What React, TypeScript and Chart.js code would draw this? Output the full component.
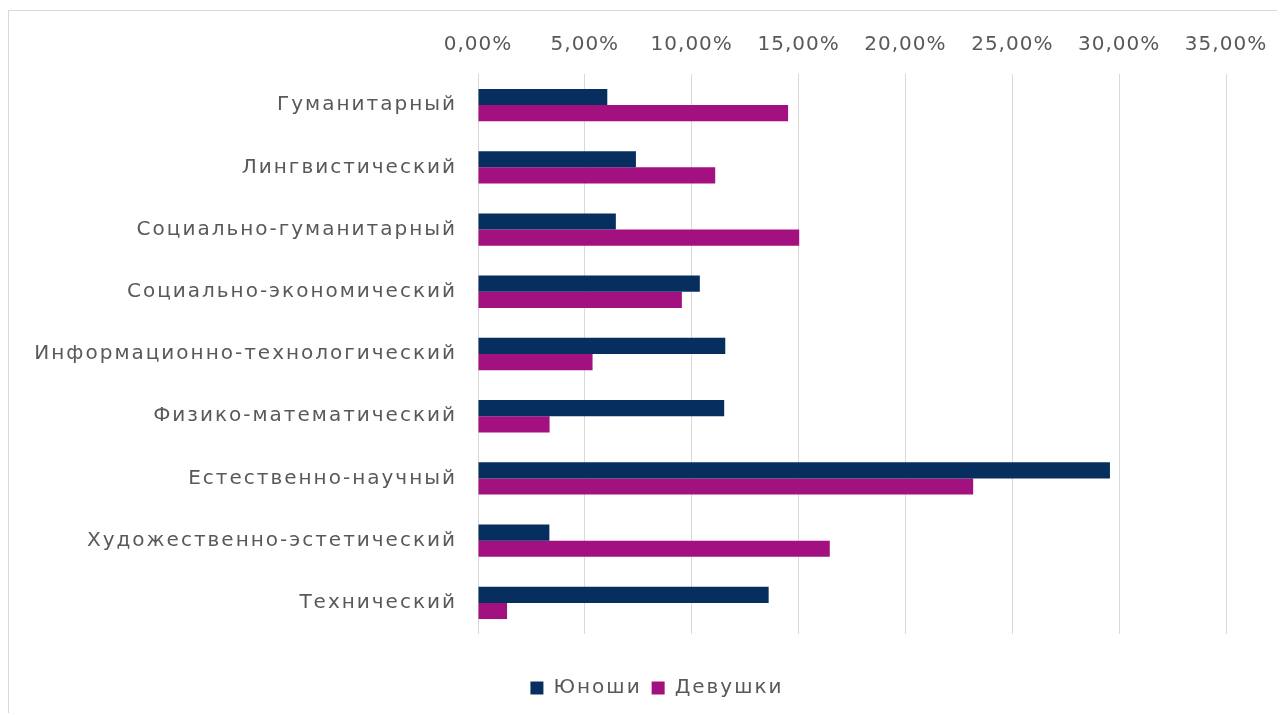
import React, { useEffect, useRef } from "react";
import { Chart, registerables } from "chart.js";

Chart.register(...registerables);

const categories = [
  "Гуманитарный",
  "Лингвистический",
  "Социально-гуманитарный",
  "Социально-экономический",
  "Информационно-технологический",
  "Физико-математический",
  "Естественно-научный",
  "Художественно-эстетический",
  "Технический",
];
const boys = [6.05, 7.39, 6.45, 10.38, 11.57, 11.52, 29.57, 3.34, 13.6];
const girls = [14.51, 11.1, 15.03, 9.54, 5.36, 3.35, 23.17, 16.46, 1.36];
const seriesNames = ["Юноши", "Девушки"];
const xMin = 0;
const xMax = 35;
const xStep = 5;

const FONT = "'DejaVu Sans', sans-serif";
const TEXT = "#595959";

function withSpacing(scale: any, spacing: string) {
  if (scale.__spaced) return;
  scale.__spaced = true;
  const orig = scale.drawLabels;
  scale.drawLabels = function (area: any) {
    const c = this.ctx;
    const prev = c.letterSpacing;
    c.letterSpacing = spacing;
    orig.call(this, area);
    c.letterSpacing = prev;
  };
}

const spacingPlugin = {
  id: "spacing",
  beforeLayout(chart: any) {
    chart.ctx.letterSpacing = "2px";
  },
  beforeDraw(chart: any) {
    chart.ctx.letterSpacing = "2px";
  },
};

export default function App() {
  const ref = useRef<HTMLCanvasElement | null>(null);
  useEffect(() => {
    if (!ref.current) return;
    const chart = new Chart(ref.current, {
      type: "bar",
      data: {
        labels: categories,
        datasets: [
          { label: seriesNames[0], data: boys, backgroundColor: "#062F5F", borderWidth: 0, categoryPercentage: 0.52, barPercentage: 1 },
          { label: seriesNames[1], data: girls, backgroundColor: "#A3107F", borderWidth: 0, categoryPercentage: 0.52, barPercentage: 1 },
        ],
      },
      plugins: [spacingPlugin],
      options: {
        indexAxis: "y",
        responsive: false,
        animation: false,
        layout: { padding: { top: 0, left: 20, right: 0, bottom: 7 } },
        scales: {
          x: {
            position: "top",
            min: xMin,
            max: xMax,
            ticks: {
              stepSize: xStep,
              padding: 17,
              color: TEXT,
              font: { family: FONT, size: 20 },
              callback: (v: any) => Number(v).toFixed(2).replace(".", ",") + "%",
            },
            grid: { color: "#D9D9D9", lineWidth: 1, drawTicks: false },
            border: { display: false },
            afterFit: (s: any) => {
              s.height = 63;
              s.paddingRight = 59;
              withSpacing(s, "1px");
            },
          },
          x2: {
            position: "bottom",
            display: true,
            ticks: { display: false },
            grid: { display: false, drawTicks: false },
            border: { display: false },
            afterFit: (s: any) => {
              s.height = 34;
            },
          },
          y: {
            ticks: {
              padding: 21,
              color: TEXT,
              font: { family: FONT, size: 20 },
            },
            grid: { display: false, drawTicks: false },
            border: { display: false },
            afterFit: (s: any) => {
              s.width = 449;
              withSpacing(s, "2px");
            },
          },
        },
        plugins: {
          legend: {
            position: "bottom",
            labels: {
              boxWidth: 13,
              boxHeight: 13,
              padding: 10,
              color: TEXT,
              font: { family: FONT, size: 20 },
            },
          },
          tooltip: { enabled: false },
        },
      },
    });
    return () => chart.destroy();
  }, []);
  return (
    <div
      style={{
        position: "relative",
        top: 2,
        width: 1276,
        height: 704,
        borderTop: "1px solid #D9D9D9",
        borderLeft: "1px solid #D9D9D9",
        background: "#fff",
      }}
    >
      <canvas ref={ref} width={1276} height={704} style={{ display: "block" }} />
    </div>
  );
}
